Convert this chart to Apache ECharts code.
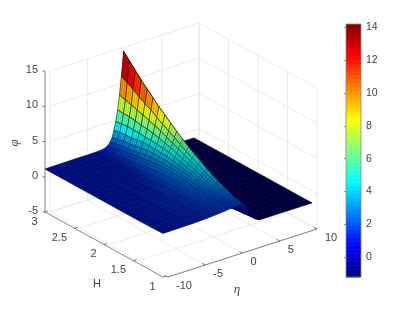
<!DOCTYPE html>
<html><head><meta charset="utf-8">
<style>html,body{margin:0;padding:0;background:#fff}#c{width:415px;height:312px}</style>
<script src="https://cdn.jsdelivr.net/npm/echarts@6/dist/echarts.min.js"></script>
</head><body><div id="c"></div>
<script>
var etaTicks=[-10,-5,0,5,10];
var hTicks=[1,1.5,2,2.5,3];
var phiTicks=[-5,0,5,10,15];
var barTicks=[0,2,4,6,8,10,12,14];
var barMin=-1.2, barMax=14.2;
var etaValues=[-10,-8,-6,-4,-3,-2.5,-2,-1.5,-1.25,-1,-.75,-.5,-.25,0,.25,.55,1,1.5,2,2.5,3,4,7,10];
var hValues=[1,1.1,1.2,1.3,1.4,1.5,1.6,1.7,1.8,1.9,2,2.1,2.2,2.3,2.4,2.5,2.6,2.7,2.8,2.9,3];
var phiRows=[
[1.18,1.2,1.24,1.32,1.4,1.45,1.5,1.55,1.6,1.6,1.65,1.7,1.75,1.8,1.85,1.9,1.3,.45,-.4,-1.05,-1.3,-1.3,-1.3,-1.3],
[1.15,1.18,1.25,1.38,1.5,1.55,1.6,1.7,1.75,1.8,1.85,1.9,1.95,2,2.05,2.1,1.2,.3,-.55,-1.1,-1.3,-1.3,-1.3,-1.3],
[1.14,1.18,1.25,1.42,1.55,1.65,1.75,1.85,1.9,1.95,2,2.1,2.15,2.25,2.3,2.4,1.15,.2,-.7,-1.2,-1.3,-1.3,-1.3,-1.3],
[1.12,1.16,1.25,1.47,1.65,1.75,1.85,2,2.05,2.15,2.25,2.3,2.45,2.5,2.65,2.75,1.1,.05,-.85,-1.25,-1.3,-1.3,-1.3,-1.3],
[1.1,1.16,1.25,1.5,1.7,1.85,2,2.15,2.25,2.35,2.45,2.6,2.7,2.85,3,3.15,1,-.2,-1.05,-1.3,-1.3,-1.3,-1.3,-1.3],
[1.1,1.15,1.25,1.5,1.75,1.9,2.1,2.3,2.45,2.6,2.75,2.9,3.05,3.2,3.4,3.6,1,-.2,-1.05,-1.3,-1.3,-1.3,-1.3,-1.3],
[1.1,1.14,1.22,1.45,1.73,1.93,2.15,2.4,2.6,2.75,2.9,3.1,3.35,3.55,3.8,4.05,1,-.2,-1.05,-1.3,-1.3,-1.3,-1.3,-1.3],
[1.1,1.14,1.2,1.43,1.73,1.95,2.2,2.55,2.75,3,3.2,3.4,3.7,3.95,4.25,4.6,.5,-.8,-1.25,-1.3,-1.3,-1.3,-1.3,-1.3],
[1.1,1.14,1.2,1.42,1.75,2,2.3,2.7,2.9,3.15,3.4,3.7,4.05,4.4,4.7,5.15,.5,-.8,-1.25,-1.3,-1.3,-1.3,-1.3,-1.3],
[1.1,1.13,1.18,1.35,1.65,1.9,2.26,2.7,3,3.25,3.55,3.9,4.3,4.7,5.2,5.7,.5,-.8,-1.25,-1.3,-1.3,-1.3,-1.3,-1.3],
[1.1,1.13,1.17,1.32,1.59,1.85,2.2,2.75,3,3.35,3.7,4.15,4.6,5.15,5.7,6.35,.5,-.8,-1.25,-1.3,-1.3,-1.3,-1.3,-1.3],
[1.1,1.13,1.16,1.27,1.54,1.8,2.2,2.75,3.1,3.45,3.9,4.4,4.95,5.5,6.2,7,-.2,-1.15,-1.3,-1.3,-1.3,-1.3,-1.3,-1.3],
[1.1,1.12,1.14,1.22,1.43,1.64,2.03,2.6,3,3.4,3.9,4.5,5.15,5.9,6.7,7.7,-.2,-1.15,-1.3,-1.3,-1.3,-1.3,-1.3,-1.3],
[1.1,1.12,1.14,1.19,1.35,1.6,1.95,2.6,3,3.5,4,4.6,5.4,6.3,7.2,8.4,-.2,-1.15,-1.3,-1.3,-1.3,-1.3,-1.3,-1.3],
[1.1,1.12,1.14,1.17,1.29,1.48,1.83,2.4,2.9,3.4,4,4.7,5.6,6.6,7.7,9.1,-.2,-1.15,-1.3,-1.3,-1.3,-1.3,-1.3,-1.3],
[1.1,1.12,1.14,1.17,1.24,1.38,1.69,2.3,2.7,3.3,4,4.7,5.75,6.9,8.3,9.9,-.6,-1.25,-1.3,-1.3,-1.3,-1.3,-1.3,-1.3],
[1.1,1.12,1.14,1.16,1.2,1.31,1.58,2.1,2.5,3.1,3.9,4.8,5.8,7.2,8.7,10.7,-.6,-1.25,-1.3,-1.3,-1.3,-1.3,-1.3,-1.3],
[1.1,1.12,1.14,1.15,1.18,1.26,1.46,2,2.4,2.96,3.7,4.8,6,7.4,9.2,11.5,-.6,-1.25,-1.3,-1.3,-1.3,-1.3,-1.3,-1.3],
[1.1,1.12,1.14,1.15,1.17,1.23,1.4,1.9,2.3,2.9,3.7,4.8,6.1,7.7,9.8,12.4,-.6,-1.25,-1.3,-1.3,-1.3,-1.3,-1.3,-1.3],
[1.1,1.12,1.14,1.15,1.16,1.2,1.33,1.7,2.1,2.7,3.6,4.7,6.1,7.95,10.3,13.3,-.6,-1.25,-1.3,-1.3,-1.3,-1.3,-1.3,-1.3],
[1.1,1.12,1.14,1.15,1.17,1.2,1.3,1.6,2,2.5,3.4,4.6,6.15,8.15,10.7,14.2,-.6,-1.25,-1.3,-1.3,-1.3,-1.3,-1.3,-1.3]
];

function project(eta,h,phi,dx){
  return [45+(dx||0)+7.45*(eta+10)+59*(3-h), 212-2.4*(eta+10)+32.5*(3-h)-7.05*(phi+5)];
}
function clamp(v){return Math.max(0,Math.min(1,v));}
function jet(t,f){
  var r=clamp(1.5-Math.abs(4*t-3)),g=clamp(1.5-Math.abs(4*t-2)),b=clamp(1.5-Math.abs(4*t-1));
  return 'rgb('+Math.round(r*255*f)+','+Math.round(g*255*f)+','+Math.round(b*255*f)+')';
}
var cMin=-1.3,cMax=14.2;

var gridSegs=[];
etaTicks.forEach(function(e){gridSegs.push([e,3,-5,e,3,15]);gridSegs.push([e,3,-5,e,1,-5]);});
hTicks.forEach(function(h){gridSegs.push([10,h,-5,10,h,15]);gridSegs.push([-10,h,-5,10,h,-5]);});
phiTicks.forEach(function(p){gridSegs.push([-10,3,p,10,3,p]);gridSegs.push([10,3,p,10,1,p]);});

var cells=[];
for(var i=hValues.length-2;i>=0;i--)for(var j=etaValues.length-2;j>=0;j--)cells.push([i,j]);

var rulerData=[];
phiTicks.forEach(function(p){rulerData.push(['phi',p]);});
hTicks.forEach(function(h){rulerData.push(['h',h]);});
etaTicks.forEach(function(e){rulerData.push(['eta',e]);});

var tickFont='11px "Liberation Sans"';
var axisColor='#555';
var levels=[];for(var k=0;k<64;k++)levels.push(k);

function mix(a,b,t){return [a[0]+(b[0]-a[0])*t,a[1]+(b[1]-a[1])*t];}

var chart=echarts.init(document.getElementById('c'),null,{renderer:'canvas'});
chart.setOption({
  animation:false,backgroundColor:'#fff',
  grid:[{left:0,top:0,width:415,height:312},{left:346,top:24,width:15,height:253}],
  xAxis:[{type:'value',min:0,max:415,show:false,gridIndex:0},{type:'value',min:0,max:1,show:false,gridIndex:1}],
  yAxis:[{type:'value',min:0,max:312,inverse:true,show:false,gridIndex:0},
    {type:'value',gridIndex:1,min:barMin,max:barMax,position:'right',
     axisLine:{show:false},splitLine:{show:false},
     axisTick:{show:true,inside:true,length:2,lineStyle:{color:'#666',width:.7},customValues:barTicks},
     axisLabel:{show:true,margin:5,color:'#444',fontSize:10.5,fontFamily:'Liberation Sans',customValues:barTicks}}],
  series:[
  {type:'custom',coordinateSystem:'cartesian2d',silent:true,clip:false,data:gridSegs,z:1,
   renderItem:function(p,api){
     var s=gridSegs[p.dataIndex];
     var a=api.coord(project(s[0],s[1],s[2],5)),b=api.coord(project(s[3],s[4],s[5],5));
     return {type:'line',shape:{x1:a[0],y1:a[1],x2:b[0],y2:b[1]},style:{stroke:'#e6e6e6',lineWidth:.8}};
   }},
  {type:'custom',coordinateSystem:'cartesian2d',silent:true,clip:false,data:cells,z:2,progressive:0,
   renderItem:function(p,api){
     var c=cells[p.dataIndex],i=c[0],j=c[1];
     var q=[[i,j],[i,j+1],[i+1,j+1],[i+1,j]];
     var top=-99,sum=0;
     var pts=q.map(function(o){var v=phiRows[o[0]][o[1]];sum+=v;if(v>top)top=v;return api.coord(project(etaValues[o[1]],hValues[o[0]],v));});
     var area=0;for(var n=0;n<4;n++){var m=(n+1)%4;area+=pts[n][0]*pts[m][1]-pts[m][0]*pts[n][1];}
     area=Math.abs(area)/2;
     var de=etaValues[j+1]-etaValues[j];
     var ratio=area/(de*(hValues[i+1]-hValues[i]));
     var steep=clamp((ratio-384)/1800);
     var f=0.64+0.36*steep;
     var tone=(top+sum/4)/2;
     var t=(tone-cMin)/(cMax-cMin);
     var hatch=0.42-0.1*steep;
     var children=[{type:'polygon',shape:{points:pts},style:{fill:jet(t,f),stroke:jet(t,f*(0.72-0.55*steep)),lineWidth:0.7}}];
     /* mesh lines of the drawn facet: spaced across H and along eta */
     var ls={stroke:'rgba(0,0,0,'+hatch+')',lineWidth:0.55};
     for(var r=1;r<3;r++){
       var a=mix(pts[0],pts[3],r/3),b=mix(pts[1],pts[2],r/3);
       children.push({type:'line',shape:{x1:a[0],y1:a[1],x2:b[0],y2:b[1]},style:ls});
     }
     var cuts=Math.min(14,Math.round(de/0.22));
     for(var s=1;s<cuts;s++){
       var e0=mix(pts[0],pts[1],s/cuts),e1=mix(pts[3],pts[2],s/cuts);
       children.push({type:'line',shape:{x1:e0[0],y1:e0[1],x2:e1[0],y2:e1[1]},style:ls});
     }
     return {type:'group',children:children};
   }},
  {type:'custom',coordinateSystem:'cartesian2d',silent:true,clip:false,data:rulerData,z:3,
   renderItem:function(p,api){
     var d=rulerData[p.dataIndex],kind=d[0],v=d[1],a,b,t;
     if(kind==='phi'){a=api.coord(project(-10,3,v));b=[a[0]-2.5,a[1]];t={x:a[0]-7,y:a[1]-1,align:'right'};}
     else if(kind==='h'){a=api.coord(project(-10,v,-5));b=[a[0]+3,a[1]-1];t={x:a[0]-7.5,y:a[1]+9.5,align:'right'};}
     else{a=api.coord(project(v,1,-5,5));b=[a[0]-3,a[1]-1.6];t={x:a[0]+8,y:a[1]+9,align:'left'};}
     return {type:'group',children:[
       {type:'line',shape:{x1:a[0],y1:a[1],x2:b[0],y2:b[1]},style:{stroke:axisColor,lineWidth:.8}},
       {type:'text',x:t.x,y:t.y,style:{text:String(v),font:tickFont,fill:'#444',align:t.align,verticalAlign:'middle'}}
     ]};
   }},
  {type:'custom',coordinateSystem:'cartesian2d',silent:true,clip:false,data:[0],z:3,
   renderItem:function(p,api){
     var a=api.coord(project(-10,3,-5)),b=api.coord(project(-10,3,15)),c=api.coord(project(-10,1,-5)),
         d=api.coord(project(-10,1,-5,5)),e=api.coord(project(10,1,-5,5));
     var ls={stroke:'#666',lineWidth:.8};
     return {type:'group',children:[
       {type:'line',shape:{x1:a[0],y1:a[1],x2:b[0],y2:b[1]},style:ls},
       {type:'line',shape:{x1:a[0],y1:a[1],x2:c[0],y2:c[1]},style:ls},
       {type:'line',shape:{x1:d[0],y1:d[1],x2:e[0],y2:e[1]},style:ls},
       {type:'text',x:97,y:284,style:{text:'H',font:'11px "Liberation Sans"',fill:'#444',align:'center',verticalAlign:'middle'}},
       {type:'text',x:237,y:290,style:{text:'η',font:'italic 13px "Liberation Serif"',fill:'#444',align:'center',verticalAlign:'middle'}},
       {type:'text',x:15,y:143,rotation:Math.PI/2,style:{text:'φ',font:'italic 13px "Liberation Serif"',fill:'#444',align:'center',verticalAlign:'middle'}}
     ]};
   }},
  {type:'custom',coordinateSystem:'cartesian2d',xAxisIndex:1,yAxisIndex:1,silent:true,data:levels,z:2,
   renderItem:function(p,api){
     var k=levels[p.dataIndex];
     var v0=barMin+(barMax-barMin)*k/64,v1=barMin+(barMax-barMin)*(k+1)/64;
     var a=api.coord([0,v1]),b=api.coord([1,v0]);
     return {type:'rect',shape:{x:a[0],y:a[1],width:b[0]-a[0],height:b[1]-a[1]+.5},style:{fill:jet((k+.5)/64,1)}};
   }},
  {type:'custom',coordinateSystem:'cartesian2d',xAxisIndex:1,yAxisIndex:1,silent:true,data:[0],z:4,
   renderItem:function(p,api){
     var a=api.coord([0,barMax]),b=api.coord([1,barMin]);
     return {type:'rect',shape:{x:a[0],y:a[1],width:b[0]-a[0],height:b[1]-a[1]},style:{fill:'none',stroke:'#888',lineWidth:.8}};
   }}
  ]
});
</script></body></html>
